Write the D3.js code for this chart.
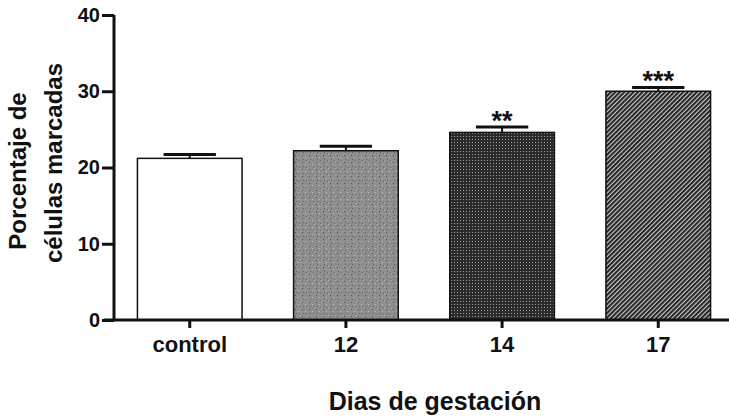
<!DOCTYPE html>
<html>
<head>
<meta charset="utf-8">
<script src="https://cdn.jsdelivr.net/npm/d3@7"></script>
<style>
body { margin: 0; background: #fff; }
text { font-family: "Liberation Sans", Arial, sans-serif; font-weight: bold; fill: #111; }
</style>
</head>
<body>
<div id="chart"></div>
<script>
let w = 729
let h = 419

let categories = ["control", "12", "14", "17"]
let means = [21.2, 22.2, 24.6, 30.0]
let errors = [0.5, 0.6, 0.7, 0.5]
let stars = ["", "", "**", "***"]
let fills = ["#ffffff", "url(#grain)", "url(#dots)", "url(#hatch)"]
let yTicks = [0, 10, 20, 30, 40]

let svg = d3.select("#chart")
	.append("svg")
	.attr("width", w)
	.attr("height", h)

let defs = svg.append("defs")

// grainy grey for 12
let grain = defs.append("pattern")
	.attr("id", "grain")
	.attr("patternUnits", "userSpaceOnUse")
	.attr("width", 7).attr("height", 7)
grain.append("rect").attr("width", 7).attr("height", 7).attr("fill", "#8e8e8e")
grain.append("rect").attr("x", 1).attr("y", 1).attr("width", 1).attr("height", 1).attr("fill", "#4e4e4e")
grain.append("rect").attr("x", 4).attr("y", 3).attr("width", 1).attr("height", 1).attr("fill", "#c0c0c0")
grain.append("rect").attr("x", 2).attr("y", 5).attr("width", 1).attr("height", 1).attr("fill", "#5e5e5e")
grain.append("rect").attr("x", 6).attr("y", 0).attr("width", 1).attr("height", 1).attr("fill", "#b0b0b0")
grain.append("rect").attr("x", 5).attr("y", 6).attr("width", 1).attr("height", 1).attr("fill", "#666")

// dark dots for 14
let dots = defs.append("pattern")
	.attr("id", "dots")
	.attr("patternUnits", "userSpaceOnUse")
	.attr("width", 3).attr("height", 3)
dots.append("rect").attr("width", 3).attr("height", 3).attr("fill", "#2a2a2a")
dots.append("rect").attr("x", 1).attr("y", 1).attr("width", 1).attr("height", 1).attr("fill", "#a0a0a0")

// diagonal hatch for 17
let hatch = defs.append("pattern")
	.attr("id", "hatch")
	.attr("patternUnits", "userSpaceOnUse")
	.attr("width", 3.2).attr("height", 3.2)
	.attr("patternTransform", "rotate(45)")
hatch.append("rect").attr("width", 3.2).attr("height", 3.2).attr("fill", "#cfcfcf")
hatch.append("rect").attr("width", 2.1).attr("height", 3.2).attr("fill", "#262626")

let x = d3.scaleBand()
	.domain(categories)
	.range([114, 734])
	.paddingInner(0.33)
	.paddingOuter(0.15)

let y = d3.scaleLinear()
	.domain([0, 40])
	.range([320, 15])

// bars
svg.selectAll(".bar")
	.data(categories)
	.enter()
	.append("rect")
	.attr("class", "bar")
	.attr("x", d => x(d))
	.attr("y", (d, i) => y(means[i]))
	.attr("width", x.bandwidth())
	.attr("height", (d, i) => y(0) - y(means[i]))
	.attr("fill", (d, i) => fills[i])
	.attr("stroke", "#111")
	.attr("stroke-width", 1.5)

// error bars
let capW = x.bandwidth() * 0.5
svg.selectAll(".errv")
	.data(categories)
	.enter()
	.append("line")
	.attr("x1", d => x(d) + x.bandwidth() / 2)
	.attr("x2", d => x(d) + x.bandwidth() / 2)
	.attr("y1", (d, i) => y(means[i]))
	.attr("y2", (d, i) => y(means[i] + errors[i]))
	.attr("stroke", "#111")
	.attr("stroke-width", 2)

svg.selectAll(".cap")
	.data(categories)
	.enter()
	.append("line")
	.attr("x1", d => x(d) + x.bandwidth() / 2 - capW / 2)
	.attr("x2", d => x(d) + x.bandwidth() / 2 + capW / 2)
	.attr("y1", (d, i) => y(means[i] + errors[i]))
	.attr("y2", (d, i) => y(means[i] + errors[i]))
	.attr("stroke", "#111")
	.attr("stroke-width", 3)

// significance stars
svg.selectAll(".star")
	.data(categories)
	.enter()
	.append("text")
	.attr("x", d => x(d) + x.bandwidth() / 2)
	.attr("y", (d, i) => y(means[i] + errors[i]) + 3)
	.attr("text-anchor", "middle")
	.attr("font-size", 27)
	.text((d, i) => stars[i])

// x axis
let xAxis = d3.axisBottom(x).tickSize(8).tickPadding(8)
let gx = svg.append("g")
	.attr("transform", "translate(0," + y(0) + ")")
	.call(xAxis)
gx.select(".domain").attr("stroke", "#111").attr("stroke-width", 3).attr("d", "M104,0H729")
gx.selectAll(".tick line").attr("stroke", "#111").attr("stroke-width", 3).attr("y1", 0)
gx.selectAll(".tick text").attr("font-size", 22).attr("fill", "#111")
	.attr("font-family", "Liberation Sans, Arial, sans-serif").attr("font-weight", "bold")

// y axis
let yAxis = d3.axisLeft(y).tickValues(yTicks).tickSize(12).tickPadding(2)
let gy = svg.append("g")
	.attr("transform", "translate(114,0)")
	.call(yAxis)
gy.select(".domain").attr("stroke", "#111").attr("stroke-width", 3).attr("d", "M0," + y(40) + "V" + y(0))
gy.selectAll(".tick line").attr("stroke", "#111").attr("stroke-width", 3)
gy.selectAll(".tick text").attr("font-size", 20).attr("fill", "#111")
	.attr("font-family", "Liberation Sans, Arial, sans-serif").attr("font-weight", "bold")

// axis titles
svg.append("text")
	.attr("transform", "translate(26,171) rotate(-90)")
	.attr("text-anchor", "middle")
	.attr("font-size", 24)
	.text("Porcentaje de")
svg.append("text")
	.attr("transform", "translate(62,163) rotate(-90)")
	.attr("text-anchor", "middle")
	.attr("font-size", 24)
	.text("células marcadas")

svg.append("text")
	.attr("x", 435)
	.attr("y", 410)
	.attr("text-anchor", "middle")
	.attr("font-size", 25)
	.text("Dias de gestación")
</script>
</body>
</html>
